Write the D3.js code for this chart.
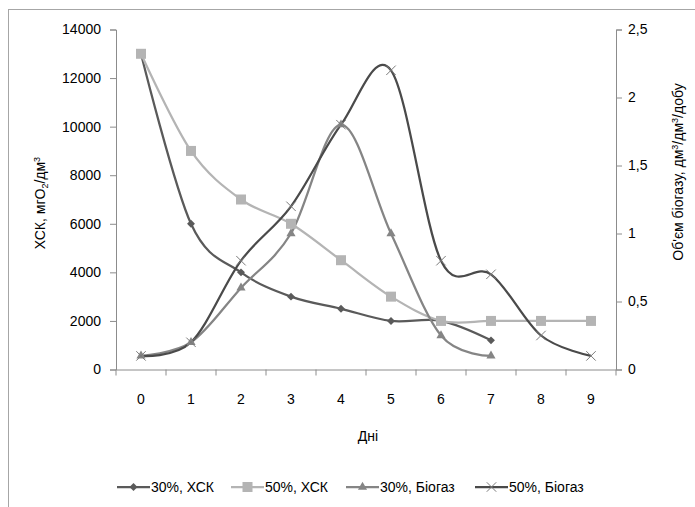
<!DOCTYPE html>
<html>
<head>
<meta charset="utf-8">
<script src="https://cdn.jsdelivr.net/npm/d3@7"></script>
<style>
  body { margin: 0; background: #fff; }
  text { font-family: "Liberation Sans", Arial, sans-serif; fill: #000; }
</style>
</head>
<body>
<div id="grafico"></div>
<script>
// data
var days = [0, 1, 2, 3, 4, 5, 6, 7, 8, 9];
var xsk30 = [13000, 6000, 4000, 3000, 2500, 2000, 2000, 1200];
var xsk50 = [13000, 9000, 7000, 6000, 4500, 3000, 2000, 2000, 2000, 2000];
var bio30 = [0.1, 0.2, 0.6, 1.0, 1.8, 1.0, 0.25, 0.1];
var bio50 = [0.1, 0.2, 0.8, 1.2, 1.8, 2.2, 0.8, 0.7, 0.25, 0.1];
var leftTicks = [0, 2000, 4000, 6000, 8000, 10000, 12000, 14000];
var rightTicks = [0, 0.5, 1, 1.5, 2, 2.5];

var W = 695, H = 507;
var margin = {top: 29.5, left: 116, right: 79, bottom: 137.5};
var width = W - margin.left - margin.right,
    height = H - margin.top - margin.bottom;

var svgRoot = d3.select("#grafico").append("svg")
  .attr("width", W).attr("height", H);

// outer border (chart area frame)
svgRoot.append("rect")
  .attr("x", 8.5).attr("y", 9.5)
  .attr("width", W + 20).attr("height", H + 20)
  .attr("fill", "none").attr("stroke", "#a6a6a6").attr("stroke-width", 1);

var svg = svgRoot.append("g")
  .attr("transform", "translate(" + margin.left + "," + margin.top + ")");

var x = d3.scaleBand().domain(days).range([0, width]);
var xc = function(i) { return x(days[i]) + x.bandwidth() / 2; };
var y = d3.scaleLinear().domain([0, 14000]).range([height, 0]);
var y2 = d3.scaleLinear().domain([0, 2.5]).range([height, 0]);

var axisColor = "#8c8c8c";

// X axis
var gx = svg.append("g")
  .attr("transform", "translate(0," + height + ")")
  .call(d3.axisBottom(x).tickSize(0).tickPadding(25));
gx.select(".domain").attr("stroke", axisColor);
gx.selectAll("text").attr("font-size", 14).attr("fill", "#000");
// tick marks between categories
svg.append("g").selectAll("line")
  .data(d3.range(days.length + 1))
  .enter().append("line")
  .attr("x1", function(d) { return d * x.step(); })
  .attr("x2", function(d) { return d * x.step(); })
  .attr("y1", height).attr("y2", height + 6)
  .attr("stroke", axisColor);

// left axis
var gy = svg.append("g")
  .call(d3.axisLeft(y).tickValues(leftTicks).tickSize(6).tickPadding(9).tickFormat(d3.format("d")));
gy.selectAll("path, line").attr("stroke", axisColor);
gy.selectAll("text").attr("font-size", 14).attr("fill", "#000");

// right axis
var gy2 = svg.append("g")
  .attr("transform", "translate(" + width + ",0)")
  .call(d3.axisRight(y2).tickValues(rightTicks).tickSize(6).tickPadding(6)
    .tickFormat(function(d) { return String(d).replace(".", ","); }));
gy2.selectAll("path, line").attr("stroke", axisColor);
gy2.selectAll("text").attr("font-size", 14).attr("fill", "#000");

// axis titles
var tl = svgRoot.append("text")
  .attr("transform", "translate(45,203) rotate(-90)")
  .attr("text-anchor", "middle").attr("font-size", 14);
tl.append("tspan").text("ХСК, мгО");
tl.append("tspan").attr("font-size", 9).attr("dy", 3).text("2");
tl.append("tspan").attr("dy", -3).text("/дм");
tl.append("tspan").attr("font-size", 9).attr("dy", -5).text("3");

var tr = svgRoot.append("text")
  .attr("transform", "translate(683,172) rotate(-90)")
  .attr("text-anchor", "middle").attr("font-size", 14);
tr.append("tspan").text("Об'єм біогазу, дм");
tr.append("tspan").attr("font-size", 9).attr("dy", -5).text("3");
tr.append("tspan").attr("dy", 5).text("/дм");
tr.append("tspan").attr("font-size", 9).attr("dy", -5).text("3");
tr.append("tspan").attr("dy", 5).text("/добу");

svgRoot.append("text")
  .attr("x", 368).attr("y", 441)
  .attr("text-anchor", "middle").attr("font-size", 14)
  .text("Дні");

// series
var series = [
  {name: "30%, ХСК", values: xsk30, scale: y, color: "#5a5a5a", marker: "diamond"},
  {name: "50%, ХСК", values: xsk50, scale: y, color: "#b4b4b4", marker: "square"},
  {name: "30%, Біогаз", values: bio30, scale: y2, color: "#858585", marker: "triangle"},
  {name: "50%, Біогаз", values: bio50, scale: y2, color: "#4a4a4a", marker: "cross"}
];

function drawMarker(g, type, cx, cy, color) {
  if (type === "diamond") {
    g.append("path").attr("d", d3.symbol(d3.symbolDiamond2, 40)())
      .attr("transform", "translate(" + cx + "," + cy + ")").attr("fill", color);
  } else if (type === "square") {
    g.append("rect").attr("x", cx - 5).attr("y", cy - 5)
      .attr("width", 10).attr("height", 10).attr("fill", color);
  } else if (type === "triangle") {
    g.append("path").attr("d", d3.symbol(d3.symbolTriangle2, 60)())
      .attr("transform", "translate(" + cx + "," + cy + ")").attr("fill", color);
  } else {
    g.append("path").attr("d", d3.symbol(d3.symbolX, 60)())
      .attr("transform", "translate(" + cx + "," + cy + ")")
      .attr("fill", "none").attr("stroke", "#7a7a7a").attr("stroke-width", 1);
  }
}

series.forEach(function(s) {
  svg.append("path")
    .datum(s.values)
    .attr("fill", "none")
    .attr("stroke", s.color)
    .attr("stroke-width", 2.25)
    .attr("d", d3.line()
      .curve(d3.curveCardinal.tension(0))
      .x(function(d, i) { return xc(i); })
      .y(function(d) { return s.scale(d); }));
});

series.forEach(function(s) {
  var g = svg.append("g");
  s.values.forEach(function(v, i) {
    drawMarker(g, s.marker, xc(i), s.scale(v), s.color);
  });
});

// legend
var legendX = [117, 231, 346, 475];
var lg = svgRoot.append("g");
series.forEach(function(s, i) {
  var lx = legendX[i], ly = 487;
  lg.append("line")
    .attr("x1", lx).attr("x2", lx + 33)
    .attr("y1", ly).attr("y2", ly)
    .attr("stroke", s.color).attr("stroke-width", 2.25);
  drawMarker(lg, s.marker, lx + 16.5, ly, s.color);
  lg.append("text")
    .attr("x", lx + 34).attr("y", ly + 5)
    .attr("font-size", 14)
    .text(s.name);
});
</script>
</body>
</html>
